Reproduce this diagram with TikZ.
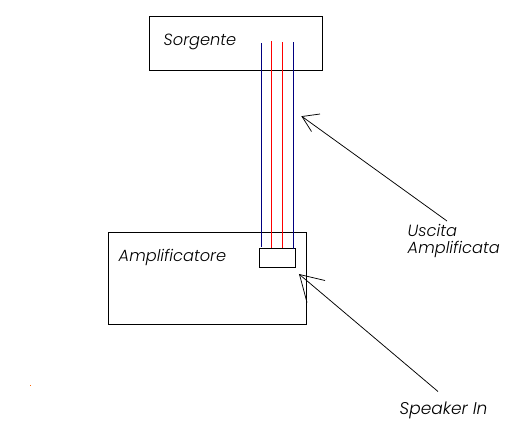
\documentclass[tikz,border=0pt]{standalone}
\usepackage{fontspec}
\setmainfont{Poppins Light}[ItalicFont={Poppins Light Italic}]
\definecolor{wireblue}{RGB}{0,0,128}
\tikzset{
  boxnode/.style={draw=black,line width=1pt,inner sep=0pt,fill=none},
  wireb/.style={draw=wireblue,line width=1pt},
  wirer/.style={draw=red,line width=1pt},
  ptr/.style={draw=black,line width=.75pt},
  lbl/.style={inner sep=0pt,anchor=base west,font=\fontsize{16.2}{18}\selectfont\itshape,text=black}
}
\begin{document}
\begin{tikzpicture}[x=1pt,y=-1pt]
\useasboundingbox[fill=white] (0,0) rectangle (528,440);
% boxes
\node[boxnode,minimum width=173pt,minimum height=54pt] (src) at (236,43.5) {};
\node[boxnode,minimum width=198pt,minimum height=92pt] (amp) at (207.5,278.5) {};
\node[boxnode,minimum width=36pt,minimum height=19pt] (in) at (277.5,258) {};
% wires
\coordinate (w1t) at (261.5,43); \coordinate (w1b) at (261.5,247);
\coordinate (w2t) at (271.5,41); \coordinate (w2b) at (271.5,248);
\coordinate (w3t) at (282.5,42); \coordinate (w3b) at (282.5,248);
\coordinate (w4t) at (293.5,42); \coordinate (w4b) at (293.5,249);
\draw[wireb] (w1t) -- (w1b);
\draw[wirer] (w2t) -- (w2b);
\draw[wirer] (w3t) -- (w3b);
\draw[wireb] (w4t) -- (w4b);
% pointer 1
\coordinate (t1) at (302,116.5);
\coordinate (t1a) at (320,114);
\coordinate (t1b) at (311.5,131.5);
\coordinate (t1e) at (447,221);
\draw[ptr] (t1e) -- (t1);
\draw[ptr] (t1a) -- (t1) -- (t1b);
% pointer 2
\coordinate (t2) at (299.5,274.5);
\coordinate (t2a) at (325,280.5);
\coordinate (t2b) at (307,302.5);
\coordinate (t2e) at (438,391.5);
\draw[ptr] (t2e) -- (t2);
\draw[ptr] (t2a) -- (t2) -- (t2b);
% labels
\node[lbl] (l1) at (163.5,45.7) {Sorgente};
\node[lbl] (l2) at (118.5,261) {Amplificatore};
\node[lbl] (l3) at (407.5,236) {Uscita};
\node[lbl] (l4) at (407.5,253.5) {Amplificata};
\node[lbl,font=\fontsize{17}{18}\selectfont\itshape] (l5) at (399.5,414) {Speaker In};
\fill[orange!80!red] (30,385) rectangle (31,386);
\end{tikzpicture}
\end{document}
